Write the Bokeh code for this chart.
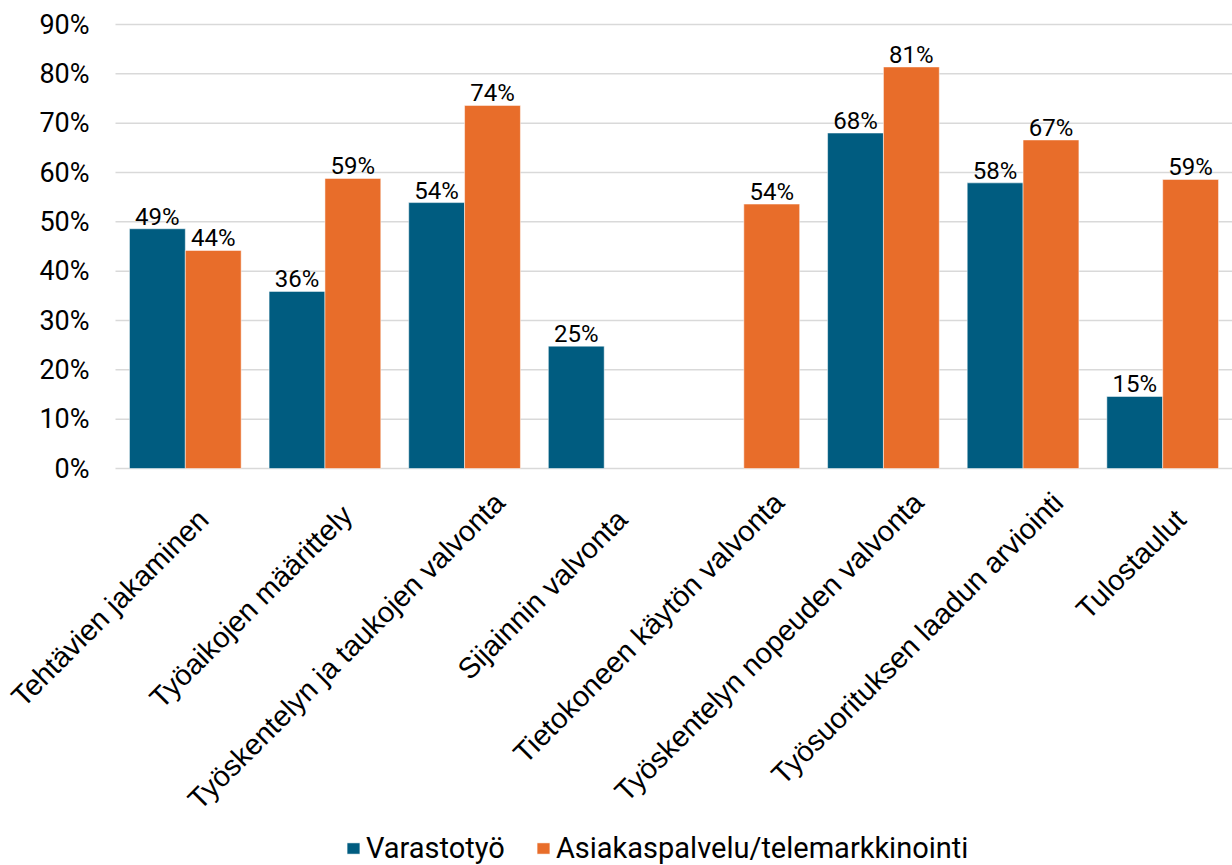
import math
from bokeh.plotting import figure
from bokeh.models import Range1d, ColumnDataSource, Legend, LegendItem
from bokeh.core.properties import value
from bokeh.transform import dodge
from bokeh.embed import file_html
from bokeh.resources import INLINE

categories = ["Tehtävien jakaminen", "Työaikojen määrittely", "Työskentelyn ja taukojen valvonta",
              "Sijainnin valvonta", "Tietokoneen käytön valvonta", "Työskentelyn nopeuden valvonta",
              "Työsuorituksen laadun arviointi", "Tulostaulut"]
varastotyo = [48.6, 35.9, 53.9, 24.8, float("nan"), 68.0, 57.9, 14.6]
asiakaspalvelu = [44.2, 58.8, 73.6, float("nan"), 53.6, 81.4, 66.6, 58.6]
series_names = ["Varastotyö", "Asiakaspalvelu/telemarkkinointi"]
colors = ["#005C80", "#E86D2A"]
y_ticks = [0, 10, 20, 30, 40, 50, 60, 70, 80, 90]
y_tick_labels = [f"{t}%" for t in y_ticks]

n = len(categories)
xc = [i + 0.5 for i in range(n)]  # category centres on a numeric axis

# layout: plotting area 115..1232 px wide; 90% line 24 px from the top, 0% line 468 px from the top
x_min = -n * 115 / 1117
px_per_unit = 444 / 90
y_max = 468 / px_per_unit
y_min = -(865 - 468) / px_per_unit
p = figure(x_range=Range1d(x_min, n), y_range=Range1d(y_min, y_max),
           width=1232, height=865, output_backend="svg", toolbar_location=None,
           min_border_left=0, min_border_top=0, min_border_right=0, min_border_bottom=0)
p.outline_line_color = None
p.background_fill_color = "white"
p.border_fill_color = "white"
p.xaxis.visible = False
p.yaxis.visible = False
p.xgrid.grid_line_color = None
p.ygrid.grid_line_color = None

# horizontal gridlines and y tick labels
p.segment(x0=[0] * len(y_ticks), x1=[n] * len(y_ticks), y0=y_ticks, y1=y_ticks,
          line_color="#D9D9D9", line_width=1.5)
p.text(x=[0] * len(y_ticks), y=y_ticks, text=y_tick_labels, x_offset=-26,
       text_align="right", text_baseline="middle",
       text_font=value("Roboto"), text_font_size="27px", text_color="#000000")

src_b = ColumnDataSource(dict(x=xc, top=varastotyo,
                              lab=[f"{round(v)}%" if v == v else "" for v in varastotyo]))
src_o = ColumnDataSource(dict(x=xc, top=asiakaspalvelu,
                              lab=[f"{round(v)}%" if v == v else "" for v in asiakaspalvelu]))

rb = p.vbar(x=dodge("x", -0.2), top="top", width=0.4, source=src_b,
            fill_color=colors[0], line_color="white", line_width=0.5)
ro = p.vbar(x=dodge("x", 0.2), top="top", width=0.4, source=src_o,
            fill_color=colors[1], line_color="white", line_width=0.5)

for src, off in ((src_b, -0.2), (src_o, 0.2)):
    p.text(x=dodge("x", off), y="top", text="lab", source=src,
           text_align="center", text_baseline="alphabetic", y_offset=-12,
           text_font=value("Roboto"), text_font_size="24px", text_color="#000000")

# rotated category labels below the 0% line (end of text anchored right of the category centre)
def _slide(label):
    return min(24.0, max(0.0, (len(label) - 19) * 3.0)) * 0.707

cat_src = ColumnDataSource(dict(x=xc, y=[0] * n, text=categories,
                                xo=[18 + _slide(c) for c in categories],
                                yo=[46 - _slide(c) for c in categories]))
p.text(x="x", y="y", text="text", source=cat_src, angle=math.pi / 4,
       x_offset="xo", y_offset="yo", text_align="right", text_baseline="alphabetic",
       text_font=value("Liberation Sans"), text_font_size="29px", text_color="#000000")

legend = Legend(items=[LegendItem(label=series_names[0], renderers=[rb]),
                       LegendItem(label=series_names[1], renderers=[ro])],
                orientation="horizontal", location=(345, 0),
                label_text_font="Roboto", label_text_font_size="29px", label_text_color="#000000",
                glyph_width=16, glyph_height=14, label_standoff=5, spacing=30,
                padding=0, margin=0, border_line_color=None, background_fill_alpha=0)
p.add_layout(legend, "center")

open("out.html", "w").write(file_html(p, INLINE))
